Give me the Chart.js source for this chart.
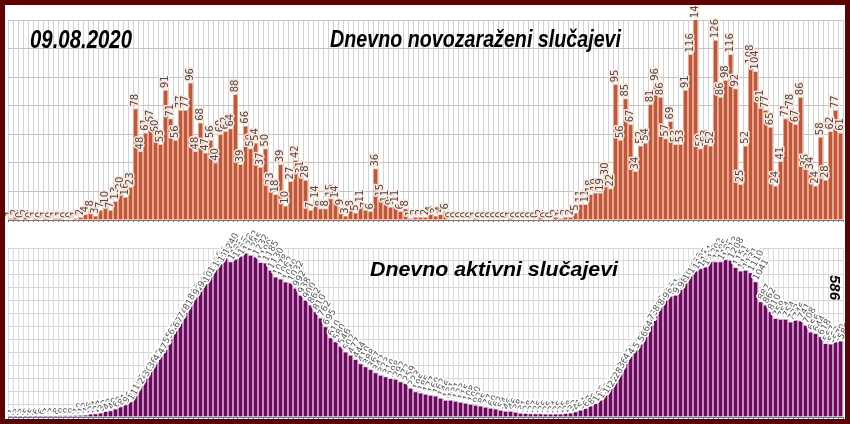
<!DOCTYPE html>
<html>
<head>
<meta charset="utf-8">
<script src="https://cdn.jsdelivr.net/npm/chart.js@4.4.1/dist/chart.umd.min.js"></script>
<style>
  body { margin: 0; background: #fff; }
  #okvir { position: relative; width: 850px; height: 424px; background: #5c0303; }
  #gore, #dole { position: absolute; left: 5px; background: #fff; }
  #gore { top: 5px; }
  #dole { top: 222px; }
</style>
</head>
<body>
<div id="okvir">
  <canvas id="gore" width="840" height="217"></canvas>
  <canvas id="dole" width="840" height="197"></canvas>
</div>
<script>
// dani od 25.02.2020 do 09.08.2020 (oznake na x osi se ne prikazuju)
const dani = [];
for (let d = new Date(2020, 1, 25); d <= new Date(2020, 7, 9); d.setDate(d.getDate() + 1)) {
  dani.push(d.getDate() + '.' + (d.getMonth() + 1) + '.');
}

// dnevno novozaraženi
const novi = [
  1, 2, 0, 2, 0, 1, 0, 1, 0, 1, 1, 0, 0, 1, 2, 4, 8, 3, 7, 10, 7, 13, 20, 16, 23,
  78, 48, 61, 67, 60, 53, 91, 71, 56, 77, 77, 96, 48, 68, 47, 56, 40, 60, 62, 64, 88,
  39, 66, 50, 54, 37, 50, 23, 18, 39, 10, 27, 42, 31, 28, 7, 14, 8, 8, 15, 14, 9, 3, 8, 5, 11, 7, 6, 36, 15, 11, 9, 11, 6, 8,
  1, 2, 2, 2, 4, 3, 4, 6,
  0, 0, 0, 0, 0, 1, 0, 0, 0, 0, 0, 0, 1, 0, 0, 0, 0, 0,
  2, 0, 0, 2, 1, 2, 2,
  5, 11, 11, 18, 19, 19,
  30, 22, 95, 56, 85, 67, 34, 52, 54, 81, 96, 86, 57, 69, 53, 53, 91, 116, 141, 50, 53, 52, 126, 86,
  98, 116, 92, 25, 52, 108, 104, 81, 77, 65, 24, 41, 71, 78, 67, 86, 36, 34, 24, 58, 28, 62, 77, 61
];

// dnevno aktivni
const aktivni = [
  1, 3, 3, 5, 5, 6, 6, 7, 7, 8, 9, 9, 9, 10, 12,
  16, 24, 27, 33, 43, 49, 62, 81, 96, 118,
  195, 242, 300, 363, 420, 470, 555, 620, 675, 745, 810, 890, 925, 985, 1025, 1100, 1140, 1180, 1240, 1195, 1215,
  1238, 1262, 1245, 1232, 1190, 1185, 1130, 1078, 1062, 1040, 1032, 992, 938, 900, 862,
  810, 762, 695, 610, 580, 546, 502, 477, 444, 410, 388, 367, 342, 323, 310, 298, 292, 272, 259, 223, 195, 185,
  177, 169, 162, 146, 131, 131, 123, 115, 108, 100, 92, 85, 77, 69, 62, 54, 46, 46, 38, 31,
  28, 27, 26, 26, 25, 24, 25, 25, 28, 33,
  41, 54, 67, 85, 105, 131, 169, 221, 285, 362,
  430, 470, 515, 567, 644, 733, 802, 848, 900, 931, 938, 982, 1041, 1092, 1125, 1144, 1156, 1202, 1195, 1195,
  1213, 1208, 1151, 1125, 1131, 1110, 1041, 887, 862, 810, 759, 754, 754, 733, 746, 741, 708, 656, 644, 618,
  567, 562, 579, 586
];

// brojevi iznad stubića
const oznakePlugin = {
  id: 'oznake',
  afterDatasetsDraw(chart, args, opts) {
    const ctx = chart.ctx;
    const meta = chart.getDatasetMeta(0);
    const data = chart.data.datasets[0].data;
    ctx.save();
    ctx.font = opts.font;
    ctx.textAlign = 'left';
    ctx.textBaseline = 'middle';
    ctx.lineJoin = 'round';
    meta.data.forEach((bar, i) => {
      const y = Math.max(bar.y, chart.chartArea.top) - opts.offset;
      ctx.save();
      ctx.translate(bar.x, y);
      ctx.rotate(opts.angle * Math.PI / 180);
      ctx.strokeStyle = opts.halo;
      ctx.lineWidth = 3;
      ctx.strokeText(String(data[i]), 0, 0);
      ctx.fillStyle = opts.color;
      ctx.fillText(String(data[i]), 0, 0);
      ctx.restore();
    });
    ctx.restore();
  }
};

// naslovi i datum
const natpisiPlugin = {
  id: 'natpisi',
  afterDraw(chart, args, opts) {
    const ctx = chart.ctx;
    (opts.items || []).forEach(t => {
      ctx.save();
      ctx.font = t.font;
      ctx.fillStyle = '#000';
      ctx.textBaseline = t.baseline || 'alphabetic';
      ctx.translate(t.x, t.y);
      if (t.rotate) ctx.rotate(t.rotate);
      const w = ctx.measureText(t.text).width;
      ctx.scale(t.width / w, 1);
      ctx.fillText(t.text, 0, 0);
      ctx.restore();
    });
  }
};

const naslov = (px) => 'bold italic ' + px + 'px "Liberation Sans", Arial, sans-serif';

new Chart(document.getElementById('gore'), {
  type: 'bar',
  data: {
    labels: dani,
    datasets: [{
      data: novi,
      backgroundColor: '#c0573b',
      borderColor: '#f7cbb4',
      borderWidth: 1,
      barPercentage: 1,
      categoryPercentage: 1
    }]
  },
  options: {
    responsive: false,
    animation: false,
    layout: { padding: { left: 3, right: 2, top: 15, bottom: 0 } },
    plugins: {
      legend: { display: false },
      tooltip: { enabled: false },
      oznake: { font: '10px "DejaVu Sans", sans-serif', color: '#4a4a4a', halo: '#fde6dc', angle: -90, offset: 2 },
      natpisi: {
        items: [
          { text: '09.08.2020', x: 25, y: 43, width: 102, font: naslov(25) },
          { text: 'Dnevno novozaraženi slučajevi', x: 325, y: 42, width: 291, font: naslov(23) }
        ]
      }
    },
    scales: {
      x: {
        ticks: { display: false },
        grid: { color: '#d2d2d2', tickLength: 2, tickColor: '#777' },
        border: { color: '#777' }
      },
      y: {
        min: 0,
        max: 140,
        ticks: { display: false, stepSize: 20 },
        grid: { color: '#c4c4c4', drawTicks: false },
        border: { display: false }
      }
    }
  },
  plugins: [oznakePlugin, natpisiPlugin]
});

new Chart(document.getElementById('dole'), {
  type: 'bar',
  data: {
    labels: dani,
    datasets: [{
      data: aktivni,
      backgroundColor: '#680b5b',
      borderColor: '#f2c4ec',
      borderWidth: 1,
      barPercentage: 1,
      categoryPercentage: 1
    }]
  },
  options: {
    responsive: false,
    animation: false,
    layout: { padding: { left: 3, right: 2, top: 26, bottom: 0 } },
    plugins: {
      legend: { display: false },
      tooltip: { enabled: false },
      oznake: { font: '9px "DejaVu Sans", sans-serif', color: '#555', halo: '#ffffff', angle: -60, offset: 2 },
      natpisi: {
        items: [
          { text: 'Dnevno aktivni slučajevi', x: 365, y: 54, width: 248, font: naslov(21) },
          { text: '586', x: 829, y: 53, width: 25, rotate: Math.PI / 2, baseline: 'middle', font: naslov(15) }
        ]
      }
    },
    scales: {
      x: {
        ticks: { display: false },
        grid: { color: '#dcdcdc', tickLength: 2, tickColor: '#777' },
        border: { color: '#777' }
      },
      y: {
        min: 0,
        max: 1300,
        ticks: { display: false, stepSize: 100 },
        grid: { color: '#d6d6d6', drawTicks: false },
        border: { display: false }
      }
    }
  },
  plugins: [oznakePlugin, natpisiPlugin]
});
</script>
</body>
</html>
